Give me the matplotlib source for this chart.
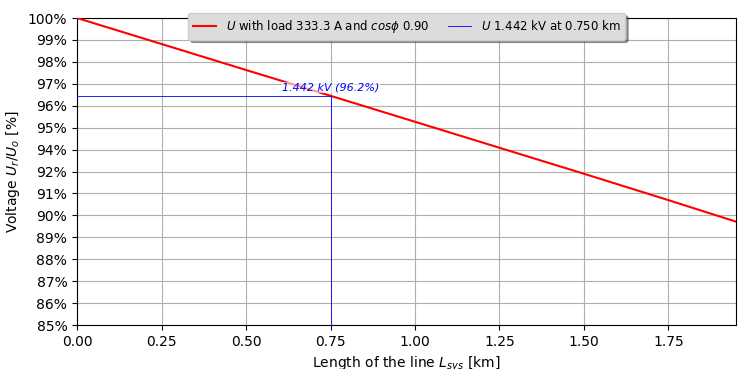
import matplotlib
matplotlib.use("Agg")
import matplotlib.pyplot as plt
import numpy as np

# line length [km] and voltage ratio Ur/Uo [%]
length_km = [0.0, 0.25, 0.50, 0.75, 1.00, 1.25, 1.50, 1.75, 1.95]
voltage_pct = [100.0, 98.73, 97.46, 96.20, 94.93, 93.66, 92.39, 91.10, 90.05]

# marked point
mark_km = 0.75
mark_pct = 96.2
mark_kv = 1.442

x_ticks = [0.0, 0.25, 0.50, 0.75, 1.00, 1.25, 1.50, 1.75]
y_ticks = np.linspace(85, 100, 15)
y_tick_labels = ["85%", "86%", "87%", "88%", "89%", "90%", "91%", "92%",
                 "94%", "95%", "96%", "97%", "98%", "99%", "100%"]

fig = plt.figure(figsize=(7.45, 3.69), dpi=100)
ax = fig.add_axes([0.1034, 0.1192, 0.8846, 0.832])

ax.plot(length_km, voltage_pct, color="red", linewidth=1.5,
        label=r"$U$ with load 333.3 A and $cos\phi$ 0.90", zorder=3)
ax.plot([0, mark_km], [mark_pct, mark_pct], color="blue", linewidth=0.6,
        label=r"$U$ %.3f kV at %.3f km" % (mark_kv, mark_km), zorder=3)
ax.plot([mark_km, mark_km], [85, mark_pct], color="blue", linewidth=0.6, zorder=3)

ax.text(mark_km, mark_pct + 0.15, "%.3f kV (%.1f%%)" % (mark_kv, mark_pct),
        color="blue", fontstyle="italic", fontsize=8, ha="center", va="bottom",
        bbox=dict(facecolor="white", edgecolor="none", alpha=0.6, pad=0.5), zorder=4)

ax.set_xlim(0, 1.95)
ax.set_ylim(85, 100)
ax.set_xticks(x_ticks)
ax.set_yticks(y_ticks)
ax.set_yticklabels(y_tick_labels)
ax.grid(True, color="#b0b0b0", linewidth=0.8)
ax.set_axisbelow(True)

ax.set_xlabel(r"Length of the line $L_{sys}$ [km]")
ax.set_ylabel(r"Voltage $U_r/U_o$ [%]")

leg = ax.legend(loc="upper center", bbox_to_anchor=(0.5, 1.035), ncol=2,
                fontsize=8.5, shadow=True, fancybox=True, framealpha=1,
                facecolor="#dcdcdc", edgecolor="#cccccc", columnspacing=1.6)
leg.set_zorder(10)

fig.savefig("out.png", dpi=100)
